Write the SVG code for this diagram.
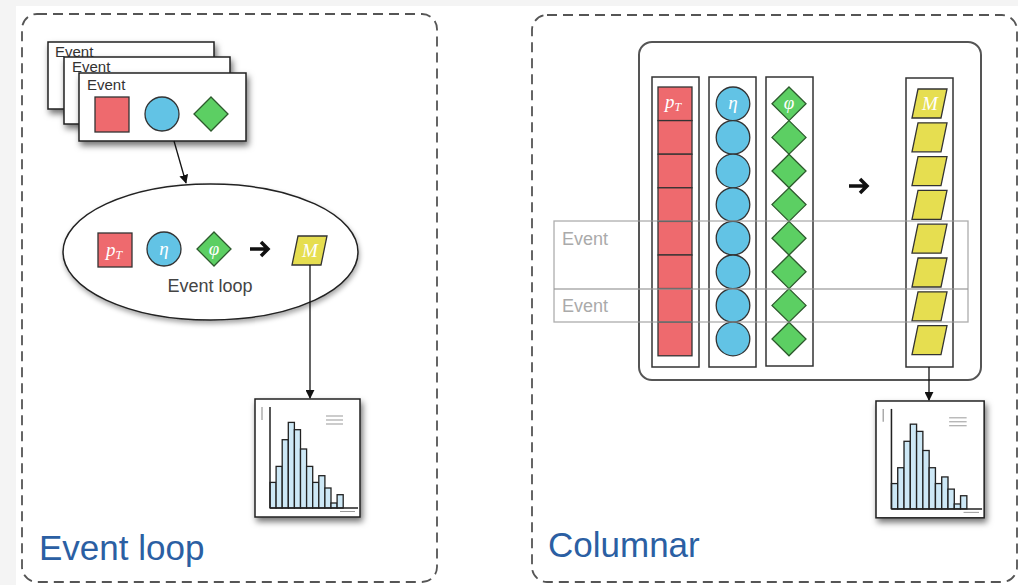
<svg xmlns="http://www.w3.org/2000/svg" xmlns:xlink="http://www.w3.org/1999/xlink" width="1018" height="585" viewBox="0 0 1018 585">
<style>
.panel{fill:none;stroke:#555;stroke-width:1.8;stroke-dasharray:10 6}
.card{fill:#fff;stroke:#222;stroke-width:1.5}
.ctext{font-family:"Liberation Sans",Arial,sans-serif;font-size:15px;fill:#333}
.red{fill:#ee6a6e;stroke:#333;stroke-width:1.3}
.blue{fill:#62c3e5;stroke:#333;stroke-width:1.3}
.green{fill:#5ccf63;stroke:#2d5a2d;stroke-width:1.3}
.yellow{fill:#e6de50;stroke:#333;stroke-width:1.3}
.math{font-family:"Liberation Serif","DejaVu Serif",serif;font-style:italic;font-size:19px;fill:#fff;text-anchor:middle}
.col{fill:#fff;stroke:#333;stroke-width:1.5}
.conn{fill:none;stroke:#111;stroke-width:1.3}
.bigarrow{fill:none;stroke:#111;stroke-width:3.5;stroke-linecap:butt}
.title{font-family:"Liberation Sans",Arial,sans-serif;font-size:35px;fill:#2b5fa3}
.evrow{fill:none;stroke:#999;stroke-opacity:0.8;stroke-width:1.3}
.evtext{font-family:"Liberation Sans",Arial,sans-serif;font-size:18px;fill:#aaa}
.bar{fill:#cde8f6;stroke:#222;stroke-width:1.3}
</style>
<defs>
<filter id="sh" x="-20%" y="-20%" width="150%" height="150%">
<feDropShadow dx="2" dy="4" stdDeviation="3" flood-color="#000" flood-opacity="0.55"/>
</filter>
<filter id="sh2" x="-20%" y="-20%" width="150%" height="150%">
<feDropShadow dx="1" dy="3" stdDeviation="2.5" flood-color="#000" flood-opacity="0.35"/>
</filter>
<marker id="ah" viewBox="0 0 10 10" refX="9" refY="5" markerWidth="9" markerHeight="9" markerUnits="userSpaceOnUse" orient="auto">
<path d="M0,0 L10,5 L0,10 z" fill="#111"/>
</marker>
<g id="hist">
<rect x="0" y="0" width="105" height="118" fill="#fff" stroke="#222" stroke-width="1.5"/>
<line x1="7" y1="8" x2="7" y2="21" stroke="#999" stroke-width="1.2"/>
<g stroke="#999" stroke-width="1">
<line x1="71" y1="17" x2="88" y2="17"/><line x1="71" y1="21" x2="88" y2="21"/><line x1="71" y1="25" x2="88" y2="25"/>
<line x1="85" y1="112.5" x2="100" y2="112.5"/>
</g>
<rect class="bar" x="15" y="83.4" width="6.1" height="25.6"/>
<rect class="bar" x="21.1" y="67.4" width="6.1" height="41.6"/>
<rect class="bar" x="27.2" y="40.7" width="6.1" height="68.3"/>
<rect class="bar" x="33.3" y="23.4" width="6.1" height="85.6"/>
<rect class="bar" x="39.4" y="30.7" width="6.1" height="78.3"/>
<rect class="bar" x="45.5" y="50" width="6.1" height="59"/>
<rect class="bar" x="51.6" y="67.4" width="6.1" height="41.6"/>
<rect class="bar" x="57.7" y="83.4" width="6.1" height="25.6"/>
<rect class="bar" x="63.8" y="76.7" width="6.1" height="32.3"/>
<rect class="bar" x="69.9" y="89" width="6.1" height="20"/>
<rect class="bar" x="76" y="104" width="6.1" height="5"/>
<rect class="bar" x="82.1" y="95.7" width="6.1" height="13.3"/>
<line x1="15" y1="8" x2="15" y2="109" stroke="#222" stroke-width="1.5"/>
<line x1="15" y1="109" x2="103" y2="109" stroke="#222" stroke-width="1.5"/>
</g>
</defs>
<rect x="0" y="0" width="1018" height="585" fill="#f4f4f4"/>
<rect x="16" y="6" width="1002" height="579" fill="#fff"/>

<g id="panel-eventloop">
<rect class="panel" x="22" y="14" width="415" height="568" rx="15"/>
<text class="title" x="39" y="560">Event loop</text>
</g>
<g id="panel-columnar">
<rect class="panel" x="532" y="15" width="485" height="567" rx="15"/>
<text class="title" x="548" y="557">Columnar</text>
</g>

<g id="events-stack">
<rect class="card" x="48" y="42" width="166" height="67" filter="url(#sh)"/>
<text class="ctext" x="55" y="57">Event</text>
<rect class="card" x="64" y="57" width="166" height="67" filter="url(#sh)"/>
<text class="ctext" x="72" y="72">Event</text>
<rect class="card" x="79" y="73" width="167" height="68" filter="url(#sh)"/>
<text class="ctext" x="87" y="89.5">Event</text>
<rect class="red" x="95" y="97" width="34" height="35"/>
<circle class="blue" cx="162" cy="114" r="17"/>
<polygon class="green" points="211,97 228,114 211,131 194,114"/>
</g>

<g id="event-loop">
<ellipse cx="210.5" cy="252" rx="147.5" ry="68" fill="#fff" stroke="#222" stroke-width="1.5" filter="url(#sh2)"/>
<rect class="red" x="98" y="233" width="34" height="34"/>
<text class="math" x="114" y="256">p<tspan font-size="12" dy="3">T</tspan></text>
<circle class="blue" cx="164" cy="249" r="17"/>
<text class="math" x="164" y="255">η</text>
<polygon class="green" points="214,232 231,249 214,266 197,249"/>
<text class="math" x="214" y="255">φ</text>
<path class="bigarrow" d="M250,249 H267 M261,242 L268,249 L261,256"/>
<polygon class="yellow" points="298,236 327,236 321,265 292,265"/>
<text class="math" x="310" y="257">M</text>
<text x="210" y="292" font-family="Liberation Sans,Arial,sans-serif" font-size="18" fill="#444" text-anchor="middle">Event loop</text>
</g>

<g id="hist-left">
<use xlink:href="#hist" href="#hist" transform="translate(255,399)" filter="url(#sh)"/>
</g>

<g id="columnar-box">
<rect x="639" y="42" width="342" height="338" rx="13" fill="#fff" stroke="#555" stroke-width="2"/>
</g>

<g id="col-pt">
<rect class="col" x="652" y="77" width="47" height="290"/>
<rect class="red" x="658" y="87" width="34" height="33.6"/>
<rect class="red" x="658" y="120.6" width="34" height="33.6"/>
<rect class="red" x="658" y="154.2" width="34" height="33.6"/>
<rect class="red" x="658" y="187.8" width="34" height="33.6"/>
<rect class="red" x="658" y="221.4" width="34" height="33.6"/>
<rect class="red" x="658" y="255" width="34" height="33.6"/>
<rect class="red" x="658" y="288.6" width="34" height="33.6"/>
<rect class="red" x="658" y="322.2" width="34" height="33.6"/>
<text class="math" x="673" y="108">p<tspan font-size="12" dy="3">T</tspan></text>
</g>

<g id="col-eta">
<rect class="col" x="709" y="77" width="47" height="290"/>
<circle class="blue" cx="733" cy="103.8" r="16.8"/>
<circle class="blue" cx="733" cy="137.4" r="16.8"/>
<circle class="blue" cx="733" cy="171" r="16.8"/>
<circle class="blue" cx="733" cy="204.6" r="16.8"/>
<circle class="blue" cx="733" cy="238.2" r="16.8"/>
<circle class="blue" cx="733" cy="271.8" r="16.8"/>
<circle class="blue" cx="733" cy="305.4" r="16.8"/>
<circle class="blue" cx="733" cy="339" r="16.8"/>
<text class="math" x="733" y="109">η</text>
</g>

<g id="col-phi">
<rect class="col" x="766" y="77" width="47" height="289"/>
<polygon class="green" points="789,87 806,103.8 789,120.6 772,103.8"/>
<polygon class="green" points="789,120.6 806,137.4 789,154.2 772,137.4"/>
<polygon class="green" points="789,154.2 806,171 789,187.8 772,171"/>
<polygon class="green" points="789,187.8 806,204.6 789,221.4 772,204.6"/>
<polygon class="green" points="789,221.4 806,238.2 789,255 772,238.2"/>
<polygon class="green" points="789,255 806,271.8 789,288.6 772,271.8"/>
<polygon class="green" points="789,288.6 806,305.4 789,322.2 772,305.4"/>
<polygon class="green" points="789,322.2 806,339 789,355.8 772,339"/>
<text class="math" x="789" y="109">φ</text>
</g>

<g id="col-arrow">
<path class="bigarrow" d="M849,186 H866 M860,179 L867,186 L860,193"/>
</g>

<g id="col-m">
<rect class="col" x="906" y="78" width="47" height="289"/>
<polygon class="yellow" points="918,89 947,89 941,118 912,118"/>
<polygon class="yellow" points="918,122.8 947,122.8 941,151.8 912,151.8"/>
<polygon class="yellow" points="918,156.6 947,156.6 941,185.6 912,185.6"/>
<polygon class="yellow" points="918,190.4 947,190.4 941,219.4 912,219.4"/>
<polygon class="yellow" points="918,224.2 947,224.2 941,253.2 912,253.2"/>
<polygon class="yellow" points="918,258 947,258 941,287 912,287"/>
<polygon class="yellow" points="918,291.8 947,291.8 941,320.8 912,320.8"/>
<polygon class="yellow" points="918,325.6 947,325.6 941,354.6 912,354.6"/>
<text class="math" x="930" y="110">M</text>
</g>

<g id="event-rows">
<rect class="evrow" x="554" y="221" width="414" height="101"/>
<line class="evrow" x1="554" y1="289" x2="968" y2="289"/>
<text class="evtext" x="562" y="245">Event</text>
<text class="evtext" x="562" y="312">Event</text>
</g>

<g id="hist-right">
<use xlink:href="#hist" href="#hist" transform="translate(876,401) scale(1.03,0.99)" filter="url(#sh)"/>
</g>

<g id="connectors">
<line class="conn" x1="174" y1="141" x2="186" y2="183" marker-end="url(#ah)"/>
<line class="conn" x1="310" y1="265" x2="310" y2="398" marker-end="url(#ah)"/>
<line class="conn" x1="929" y1="367" x2="929" y2="400" marker-end="url(#ah)"/>
</g>
</svg>
